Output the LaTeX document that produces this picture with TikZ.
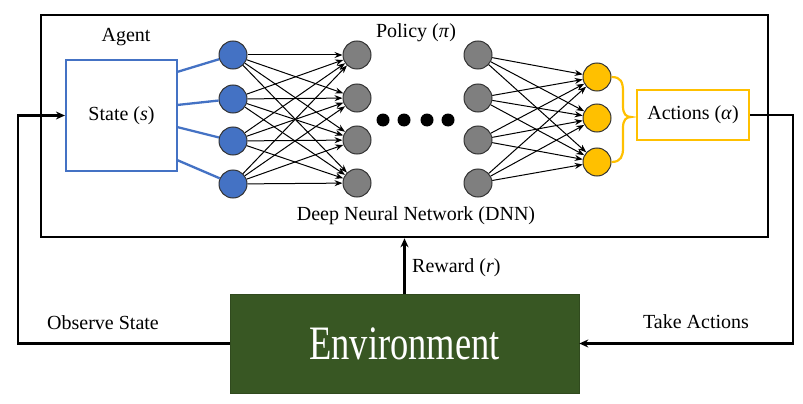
\documentclass[tikz,border=0pt]{standalone}
\usepackage{fontspec}
\setmainfont{Liberation Serif}
\usetikzlibrary{arrows.meta,calc}
\definecolor{nnblue}{HTML}{4472C4}
\definecolor{nngray}{HTML}{7F7F7F}
\definecolor{nnyellow}{HTML}{FFC000}
\definecolor{envgreen}{HTML}{385723}
\begin{document}
\begin{tikzpicture}[x=1pt,y=-1pt,
  neuron/.style={circle, minimum size=28pt, inner sep=0pt, draw=black!80, line width=1pt},
  bneuron/.style={neuron, fill=nnblue},
  gneuron/.style={neuron, fill=nngray},
  yneuron/.style={neuron, fill=nnyellow},
  dotnode/.style={circle, fill=black, minimum size=13pt, inner sep=0pt},
  lbl/.style={font=\fontsize{20}{23}\selectfont, inner sep=1pt},
  nnedge/.style={-{Stealth[length=8pt,width=6pt]}, line width=1pt},
  blueline/.style={draw=nnblue, line width=2.3pt},
  brace/.style={draw=nnyellow, line width=2.2pt},
  loopline/.style={-{Stealth[length=9pt,width=8pt]}, line width=2.3pt}]
\useasboundingbox (0,0) rectangle (803,404);

% agent outer box
\node[draw, line width=2.6pt, minimum width=727pt, minimum height=222pt, inner sep=0pt] (agent) at (404.5,126) {};

% state box
\node[draw=nnblue, line width=2.2pt, minimum width=111pt, minimum height=111pt, inner sep=0pt, font=\fontsize{20}{23}\selectfont] (state) at (121.5,115.5) {State (\textit{s})};

% actions box
\node[draw=nnyellow, line width=2.2pt, minimum width=112pt, minimum height=50pt, inner sep=0pt, font=\fontsize{20}{23}\selectfont] (actions) at (693,115) {Actions (\textit{α})};

% neurons
\foreach \i/\y in {1/55,2/99,3/141,4/184} \node[bneuron] (b\i) at (233,\y) {};
\foreach \i/\y in {1/55,2/98,3/140,4/183} \node[gneuron] (g\i) at (357,\y) {};
\foreach \i/\y in {1/55,2/98,3/140,4/183} \node[gneuron] (h\i) at (478,\y) {};
\foreach \i/\y in {1/77,2/118,3/162} \node[yneuron] (y\i) at (597,\y) {};
\foreach \k/\x in {1/383,2/404,3/427,4/448} \node[dotnode] (d\k) at (\x,120) {};

% connections
\foreach \i in {1,...,4} \foreach \j in {1,...,4} \draw[nnedge] (b\i) -- (g\j);
\foreach \i in {1,...,4} \foreach \j in {1,2,3} \draw[nnedge] (h\i) -- (y\j);

% state to blue layer
\coordinate (s1) at (177,72);
\coordinate (s2) at (177,105);
\coordinate (s3) at (177,127);
\coordinate (s4) at (177,160);
\foreach \i in {1,...,4} \draw[blueline] (s\i) -- (b\i);

% brace
\coordinate (bt) at (631,117);
\draw[brace] (y1.east) .. controls (621,77) and (623,82) .. (623,92) -- (623,106)
  .. controls (623,114) and (626,117) .. (bt)
  .. controls (626,117) and (623,120) .. (623,128) -- (623,148)
  .. controls (623,156) and (621,162) .. (y3.east);

% environment
\node[fill=envgreen, draw=envgreen!85!black, line width=0.6pt, minimum width=349pt, minimum height=99pt, inner sep=0pt, text=white] (env) at (404.5,343.5) {\scalebox{0.76}[1]{\fontsize{48}{50}\selectfont Environment}};

% loops
\coordinate (lc) at (18,230);
\coordinate (rc) at (793,230);
\draw[loopline] (env.west) -| (lc) |- (state.west);
\draw[loopline] (actions.east) -| (rc) |- (env.east);
\draw[loopline] (env.north) -- (env.north |- agent.south);

% labels
\node[lbl] (agentlbl) at (126,37) {Agent};
\node[lbl] (policy) at (416,33) {Policy (\textit{π})};
\node[lbl] (dnn) at (416,216) {Deep Neural Network (DNN)};
\node[lbl, anchor=west] (reward) at (411,268) {Reward (\textit{r})};
\node[lbl] (obs) at (103,323) {Observe State};
\node[lbl] (take) at (696,322) {Take Actions};
\end{tikzpicture}
\end{document}
